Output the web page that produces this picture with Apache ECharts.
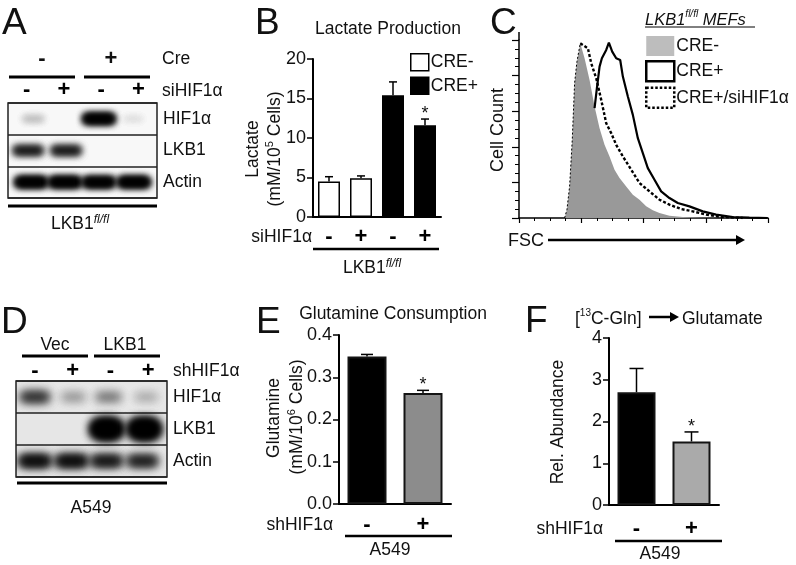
<!DOCTYPE html>
<html><head><meta charset="utf-8">
<style>html,body{margin:0;padding:0;background:#fff}#c{width:796px;height:565px}</style>
<script src="https://cdn.jsdelivr.net/npm/echarts@6/dist/echarts.min.js"></script>
</head><body><div id="c"></div>
<script>
// ---- data ----
const laneSigns = ['-', '+', '-', '+'];
const shSigns = ['-', '+'];
const blotRows = ['HIF1α', 'LKB1', 'Actin'];
// blot bands: [lane position, row, band density]
const bandsA = [
  [0.68, 0, 0.22], [2.44, 0, 1.0], [3.36, 0, 0.10],
  [0.54, 1, 0.85], [1.56, 1, 0.85],
  [0.62, 2, 1.1], [1.53, 2, 1.1], [2.44, 2, 1.0], [3.38, 2, 1.2]
];
const bandsD = [
  [0.5, 0, 0.75], [1.52, 0, 0.32], [2.45, 0, 0.45], [3.45, 0, 0.25],
  [2.4, 1, 2.0], [3.4, 1, 2.0],
  [0.5, 2, 0.95], [1.47, 2, 0.95], [2.4, 2, 0.9], [3.35, 2, 0.85]
];
const lactate = [4.5, 4.9, 15.4, 11.6];
const lactateErr = [0.6, 0.3, 1.7, 0.8];
const lactateStar = [0, 0, 0, 1];
const glutamine = [0.349, 0.263];
const glutamineErr = [0.005, 0.006];
const glutamineStar = [0, 1];
const abundance = [2.7, 1.52];
const abundanceErr = [0.57, 0.23];
const abundanceStar = [0, 1];
// flow histogram in channel units [FSC, count]
const histCreMinus = [[137,0],[144,25],[152,95],[160,235],[167,405],[174,470],[184,525],[197,480],[212,415],[227,335],[242,270],[257,220],[272,185],[287,145],[302,120],[322,95],[342,70],[362,55],[382,35],[402,23],[422,15],[452,7],[492,3],[552,1],[612,0]];
const histCrePlus = [[227,330],[234,390],[242,455],[249,480],[262,505],[270,527],[280,500],[292,480],[304,475],[312,425],[327,365],[342,310],[357,240],[372,195],[387,150],[407,115],[427,80],[452,60],[477,45],[512,35],[552,20],[592,10],[642,3],[692,1],[747,0]];
const histCrePlusSi = [[184,525],[207,510],[217,465],[232,420],[247,355],[262,285],[277,255],[292,220],[312,185],[337,145],[362,105],[392,80],[422,55],[452,40],[487,27],[522,20],[562,10],[612,3],[672,0]];
const histCrePlusSiRise = [[137,0],[144,25],[152,95],[160,235],[167,405],[174,470],[184,525]];

// ---- helpers ----
const FONT = '"Liberation Sans", Arial, sans-serif';
const INK = '#111';
const FS = 17.5;
function txt(text, x, y, o) {
  o = o || {};
  const a = o.align || 'left';
  const sz = o.size || FS;
  const d = sz * 0.08;
  return { type: 'text', x: o.rot ? x + d : x, y: o.rot ? y : y + d, rotation: o.rot || 0, silent: true, z: 20, style: {
    text, fill: INK, fontFamily: FONT, fontSize: sz,
    fontWeight: o.weight || 'normal',
    fontStyle: o.italic ? 'italic' : 'normal',
    align: a, textAlign: a, verticalAlign: 'middle', textVerticalAlign: 'middle',
    rich: o.rich
  }};
}
function rule(x1, y1, x2, y2, w) {
  return { type: 'line', silent: true, z: 20, shape: { x1, y1, x2, y2 }, style: { stroke: '#000', lineWidth: w || 3 } };
}
function supRich(size) {
  return {
    a: { fontFamily: FONT, fontSize: FS, fill: INK, verticalAlign: 'bottom', lineHeight: 20 },
    s: { fontFamily: FONT, fontSize: size || 11, fill: INK, verticalAlign: 'top', lineHeight: 20 },
    i: { fontFamily: FONT, fontSize: size || 11, fontStyle: 'italic', fill: INK, verticalAlign: 'top', lineHeight: 20 }
  };
}
// Each band is drawn as its blurred shadow only, which gives the soft film look.
const OFF = 3000;
function bandItem(halfW, halfH, blur) {
  return function (params, api) {
    const p = api.coord([api.value(0), api.value(1)]);
    const d = api.value(2);
    const w = halfW * Math.min(1, 0.6 + 0.4 * d);
    const h = halfH * (d > 1.3 ? d : Math.min(1.1, 0.6 + 0.45 * d));
    const alpha = 1 - Math.sqrt(1 - Math.min(1, d));
    const c = 'rgba(0,0,0,' + alpha + ')';
    const layer = () => ({ type: 'rect', shape: { x: p[0] - w + OFF, y: p[1] - h, width: 2 * w, height: 2 * h, r: h },
      style: { fill: '#000', shadowBlur: blur, shadowColor: c, shadowOffsetX: -OFF } });
    return { type: 'group', children: [layer(), layer(), layer()] };
  };
}
function errItem(values, errs, stars, capW, lw) {
  return function (params, api) {
    const i = params.dataIndex;
    const a = api.coord([i, values[i]]);
    const b = api.coord([i, values[i] + errs[i]]);
    const ch = [
      { type: 'line', shape: { x1: a[0], y1: a[1], x2: b[0], y2: b[1] }, style: { stroke: '#000', lineWidth: lw } },
      { type: 'line', shape: { x1: b[0] - capW, y1: b[1], x2: b[0] + capW, y2: b[1] }, style: { stroke: '#000', lineWidth: lw } }
    ];
    if (stars[i]) ch.push({ type: 'text', x: b[0], y: b[1] - 5, style: { text: '*', fontFamily: FONT, fontSize: 18, fill: INK, align: 'center', textAlign: 'center', verticalAlign: 'middle', textVerticalAlign: 'middle' } });
    return { type: 'group', children: ch };
  };
}
function catAxis(grid, data, margin) {
  return { type: 'category', gridIndex: grid, data,
    axisLine: { onZero: false, lineStyle: { color: '#000', width: 2 } },
    axisTick: { alignWithLabel: true, length: 4, lineStyle: { color: '#000', width: 1.5 } },
    axisLabel: { color: '#000', fontFamily: FONT, fontSize: 22, fontWeight: 'bold', margin: margin, interval: 0 } };
}
function valAxis(grid, max, interval, fmt, size) {
  return { type: 'value', gridIndex: grid, min: 0, max, interval,
    splitLine: { show: false },
    axisLine: { show: true, lineStyle: { color: '#000', width: 2 } },
    axisTick: { show: true, length: 6, lineStyle: { color: '#000', width: 1.5 } },
    axisLabel: { color: INK, fontFamily: FONT, fontSize: size || 18, margin: 7, formatter: fmt } };
}
function blotAxisX(grid) {
  return { type: 'value', gridIndex: grid, min: 0, max: 4, show: false, splitLine: { show: false } };
}
function laneAxis(grid, margin) {
  return { type: 'category', gridIndex: grid, position: 'top', data: laneSigns,
    axisLine: { show: false }, axisTick: { show: false },
    axisLabel: { color: '#000', fontFamily: FONT, fontSize: 22, fontWeight: 'bold', margin, interval: 0 } };
}
function blotAxisY(grid) {
  return { type: 'category', gridIndex: grid, inverse: true, position: 'right', data: blotRows,
    axisLine: { show: false }, axisTick: { show: false },
    splitLine: { show: true, interval: 0, lineStyle: { color: '#222', width: 1.5 } },
    axisLabel: { color: INK, fontFamily: FONT, fontSize: FS, margin: 6, interval: 0 } };
}
function blotSeries(x, y, data, halfW, halfH, blur) {
  return { type: 'custom', name: 'bands', xAxisIndex: x, yAxisIndex: y, clip: true, silent: true,
    encode: { x: 0, y: 1 }, data, renderItem: bandItem(halfW, halfH, blur) };
}
function errSeries(x, y, values, errs, stars, capW, lw) {
  return { type: 'custom', name: 'error', xAxisIndex: x, yAxisIndex: y, silent: true, z: 1, clip: false,
    data: values.map((v, i) => [i, v + errs[i]]), encode: { x: 0, y: 1 },
    renderItem: errItem(values, errs, stars, capW, lw) };
}
function singleBars(x, y, values, colors, width) {
  return { type: 'bar', name: 'bars', xAxisIndex: x, yAxisIndex: y, barWidth: width, silent: true, z: 3,
    data: values.map((v, i) => ({ value: v, itemStyle: { color: colors[i], borderColor: '#141414', borderWidth: 2 } })) };
}

const option = {
  animation: false,
  backgroundColor: '#fff',
  textStyle: { fontFamily: FONT },
  grid: [
    { left: 8, top: 103, width: 149, height: 95, show: true, backgroundColor: '#f8f8f8', borderColor: '#222', borderWidth: 1.5 },
    { left: 16, top: 381, width: 151, height: 96, show: true, backgroundColor: '#e6e6e6', borderColor: '#222', borderWidth: 1.5 },
    { left: 313, top: 59, width: 128, height: 158 },
    { left: 519, top: 40, width: 249, height: 178 },
    { left: 339, top: 335, width: 112, height: 169 },
    { left: 609, top: 338, width: 110, height: 167 }
  ],
  xAxis: [
    blotAxisX(0), laneAxis(0, 2), blotAxisX(1), laneAxis(1, -1),
    catAxis(2, laneSigns, 9),
    { type: 'value', gridIndex: 3, min: 0, max: 748, interval: 187, splitLine: { show: false },
      axisLine: { onZero: false, lineStyle: { color: '#000', width: 1.5 } },
      axisTick: { length: 5, lineStyle: { color: '#000', width: 1.2 } },
      minorTick: { show: true, splitNumber: 4, length: 3, lineStyle: { color: '#000', width: 1 } },
      axisLabel: { show: false } },
    catAxis(4, shSigns, 10), catAxis(5, shSigns, 13)
  ],
  yAxis: [
    blotAxisY(0), blotAxisY(1),
    valAxis(2, 20, 5),
    { type: 'value', gridIndex: 3, min: 0, max: 535, interval: 107, splitLine: { show: false },
      axisLine: { show: true, onZero: false, lineStyle: { color: '#000', width: 1.5 } },
      axisTick: { show: true, length: 7, lineStyle: { color: '#000', width: 1.2 } },
      minorTick: { show: true, splitNumber: 4, length: 4, lineStyle: { color: '#000', width: 1 } },
      axisLabel: { show: false } },
    valAxis(4, 0.4, 0.1, v => v.toFixed(1)),
    valAxis(5, 4, 1)
  ],
  legend: [
    { left: 410, top: 53, padding: 0, orient: 'vertical', itemWidth: 18, itemHeight: 17, itemGap: 5, selectedMode: false,
      textStyle: { color: INK, fontFamily: FONT, fontSize: FS, padding: [0, 0, 0, -3] },
      data: [
        { name: 'CRE-', icon: 'rect', itemStyle: { color: '#fff', borderColor: '#000', borderWidth: 1.5 } },
        { name: 'CRE+', icon: 'rect', itemStyle: { color: '#000', borderColor: '#000', borderWidth: 1.5 } }
      ] },
    { left: 645, top: 36, padding: 0, orient: 'vertical', itemWidth: 28, itemHeight: 20, itemGap: 4, selectedMode: false,
      textStyle: { color: INK, fontFamily: FONT, fontSize: FS, padding: [0, 0, 0, -3] },
      data: [
        { name: 'CRE- ', icon: 'rect', itemStyle: { color: '#bdbdbd', borderWidth: 0 }, lineStyle: { width: 0 } },
        { name: 'CRE+ ', icon: 'rect', itemStyle: { color: '#fff', borderColor: '#000', borderWidth: 2.5 }, lineStyle: { width: 0 } },
        { name: 'CRE+/siHIF1α', icon: 'rect', itemStyle: { color: '#fff', borderColor: '#000', borderWidth: 2.5, borderType: [2.5, 2] }, lineStyle: { width: 0 } }
      ] }
  ],
  series: [
    blotSeries(0, 0, bandsA, 16, 4.5, 7),
    blotSeries(2, 1, bandsD, 16, 5, 10),
    { type: 'custom', name: 'laneA', xAxisIndex: 1, yAxisIndex: 0, data: [], renderItem: () => null },
    { type: 'custom', name: 'laneD', xAxisIndex: 3, yAxisIndex: 1, data: [], renderItem: () => null },

    { type: 'bar', name: 'CRE-', xAxisIndex: 4, yAxisIndex: 2, barWidth: 22, barGap: '-100%', z: 3, silent: true,
      itemStyle: { color: '#fff', borderColor: '#000', borderWidth: 1.5 },
      data: [lactate[0], lactate[1], null, null] },
    { type: 'bar', name: 'CRE+', xAxisIndex: 4, yAxisIndex: 2, barWidth: 22, barGap: '-100%', z: 3, silent: true,
      itemStyle: { color: '#000', borderColor: '#000', borderWidth: 1.5 },
      data: [null, null, lactate[2], lactate[3]] },
    errSeries(4, 2, lactate, lactateErr, lactateStar, 4, 1.5),

    { type: 'line', name: 'CRE- ', xAxisIndex: 5, yAxisIndex: 3, data: histCreMinus, symbol: 'none', silent: true, z: 2,
      lineStyle: { width: 0 }, itemStyle: { color: '#999' }, areaStyle: { color: '#999', opacity: 1 } },
    { type: 'line', name: 'CRE+/siHIF1α', xAxisIndex: 5, yAxisIndex: 3, data: histCrePlusSi, symbol: 'none', silent: true, z: 3,
      lineStyle: { width: 2.4, color: '#000', type: [3, 2] }, itemStyle: { color: '#000' } },
    { type: 'line', name: 'rise', xAxisIndex: 5, yAxisIndex: 3, data: histCrePlusSiRise, symbol: 'none', silent: true, z: 3,
      lineStyle: { width: 1, color: '#000', type: [2, 2] } },
    { type: 'line', name: 'CRE+ ', xAxisIndex: 5, yAxisIndex: 3, data: histCrePlus, symbol: 'none', silent: true, z: 4,
      lineStyle: { width: 2.2, color: '#000' }, itemStyle: { color: '#000' } },

    singleBars(6, 4, glutamine, ['#000', '#8c8c8c'], 39),
    errSeries(6, 4, glutamine, glutamineErr, glutamineStar, 6, 1.5),
    singleBars(7, 5, abundance, ['#000', '#aaaaaa'], 38),
    errSeries(7, 5, abundance, abundanceErr, abundanceStar, 7, 1.5)
  ],
  graphic: { elements: [
    // panel letters
    txt('A', 2, 21, { size: 37 }), txt('B', 255, 21, { size: 37 }), txt('C', 490, 21, { size: 37 }),
    txt('D', 1, 320, { size: 37 }), txt('E', 256, 320, { size: 37 }), txt('F', 525, 319, { size: 37 }),
    // A
    txt('-', 42, 57, { size: 22, align: 'center', weight: 'bold' }), txt('+', 111, 57, { size: 22, align: 'center', weight: 'bold' }),
    txt('Cre', 162, 58), rule(9, 77, 75, 77), rule(84, 77, 150, 77),
    txt('siHIF1α', 162, 90), rule(8, 206, 157, 206),
    txt('{a|LKB1}{i|fl/fl}', 80, 222, { align: 'center', rich: supRich(12) }),
    // B
    txt('Lactate Production', 388, 28, { align: 'center' }),
    txt('Lactate', 252, 149, { rot: Math.PI / 2, align: 'center' }),
    txt('{a|(mM/10}{s|5}{a| Cells)}', 273, 149, { rot: Math.PI / 2, align: 'center', rich: supRich() }),
    txt('siHIF1α', 312, 236, { align: 'right' }), rule(313, 249, 439, 249, 2.5),
    txt('{a|LKB1}{i|fl/fl}', 372, 266, { align: 'center', rich: supRich(12) }),
    // C
    txt('{a|LKB1}{i|fl/fl}{a| MEFs}', 645, 18, { rich: {
      a: { fontFamily: FONT, fontSize: 16.5, fontStyle: 'italic', fill: INK, verticalAlign: 'bottom', lineHeight: 20 },
      i: { fontFamily: FONT, fontSize: 10, fontStyle: 'italic', fill: INK, verticalAlign: 'top', lineHeight: 20 } } }),
    rule(645, 27, 755, 27, 1),
    rule(519, 40, 519, 32, 1.5),
    txt('Cell Count', 497, 130, { rot: Math.PI / 2, align: 'center', size: 18 }),
    txt('FSC', 508, 240, { size: 18 }), rule(548, 240, 738, 240, 2.5),
    { type: 'polygon', silent: true, z: 20, shape: { points: [[736, 235], [745, 240], [736, 245]] }, style: { fill: '#000' } },
    // D
    txt('Vec', 55, 344, { align: 'center' }), txt('LKB1', 125, 344, { align: 'center' }),
    rule(22, 356, 88, 356), rule(94, 356, 160, 356),
    txt('shHIF1α', 173, 370), rule(17, 483, 167, 483),
    txt('A549', 91, 507, { align: 'center' }),
    // E
    txt('Glutamine Consumption', 393, 313, { align: 'center' }),
    txt('Glutamine', 273, 418, { rot: Math.PI / 2, align: 'center' }),
    txt('{a|(mM/10}{s|6}{a| Cells)}', 295, 417, { rot: Math.PI / 2, align: 'center', rich: supRich() }),
    txt('shHIF1α', 333, 524, { align: 'right' }), rule(345, 536, 452, 536, 2.5),
    txt('A549', 390, 549, { align: 'center' }),
    // F
    txt('{a|[}{s|13}{a|C-Gln]}', 575, 317, { rich: supRich(10) }),
    rule(649, 317, 672, 317, 2.5),
    { type: 'polygon', silent: true, z: 20, shape: { points: [[670, 312], [679, 317], [670, 322]] }, style: { fill: '#000' } },
    txt('Glutamate', 682, 318),
    txt('Rel. Abundance', 557, 422, { rot: Math.PI / 2, align: 'center' }),
    txt('shHIF1α', 603, 528, { align: 'right' }), rule(615, 541, 722, 541, 2.5),
    txt('A549', 660, 553, { align: 'center' })
  ] }
};
const chart = echarts.init(document.getElementById('c'), null, { renderer: 'canvas' });
chart.setOption(option);
</script></body></html>
